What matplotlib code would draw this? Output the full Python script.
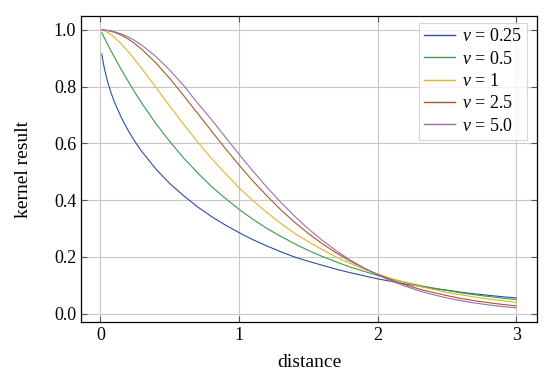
import matplotlib
matplotlib.use("Agg")
import matplotlib.pyplot as plt

plt.rcParams['font.family'] = ['Liberation Serif', 'DejaVu Serif']
plt.rcParams['mathtext.fontset'] = 'custom'
plt.rcParams['mathtext.rm'] = 'Liberation Serif'
plt.rcParams['mathtext.it'] = 'Liberation Serif:italic'

distance = [0.01, 0.02, 0.03, 0.05, 0.075, 0.1, 0.15, 0.2, 0.25, 0.3, 0.4, 0.5, 0.6,
            0.7, 0.8, 0.9, 1.0, 1.1, 1.2, 1.3, 1.4, 1.5, 1.6, 1.7, 1.8, 1.9, 2.0,
            2.1, 2.2, 2.3, 2.4, 2.5, 2.6, 2.7, 2.8, 2.9, 3.0]

nu_labels = ["0.25", "0.5", "1", "2.5", "5.0"]

k_nu_025 = [.915, .886, .861, .821, .781, .747, .692, .646, .606, .571, .510, .459, .416,
            .377, .343, .313, .286, .261, .239, .219, .200, .185, .171, .157, .145, .134, .123,
            .114, .105, .097, .089, .083, .076, .070, .065, .060, .056]
k_nu_05 = [.990, .980, .970, .951, .928, .905, .861, .819, .779, .741, .670, .607, .549,
           .497, .449, .407, .368, .333, .301, .273, .247, .223, .202, .183, .165, .150, .135,
           .122, .111, .100, .091, .082, .074, .067, .061, .055, .050]
k_nu_1 = [.9995, .998, .997, .992, .984, .974, .951, .924, .894, .863, .798, .732, .668,
          .606, .548, .495, .444, .399, .357, .319, .284, .254, .226, .200, .178, .158, .140,
          .124, .110, .097, .086, .075, .067, .059, .052, .046, .040]
k_nu_25 = [1.0, .9997, .9993, .998, .995, .992, .982, .968, .951, .931, .884, .829, .769,
           .707, .645, .583, .524, .468, .416, .367, .323, .283, .247, .215, .186, .161, .139,
           .119, .102, .087, .075, .064, .054, .046, .039, .033, .028]
k_nu_5 = [1.0, .9998, .9994, .9984, .9965, .9938, .9861, .9754, .9619, .9458, .9063, .8585, .8046,
          .7429, .6851, .6234, .5622, .5030, .4465, .3934, .3443, .2995, .2589, .2225, .1902, .1618, .1370,
          .1152, .0969, .0808, .0674, .0558, .0462, .0380, .0313, .0256, .0209]

series = [k_nu_025, k_nu_05, k_nu_1, k_nu_25, k_nu_5]
colors = ['#2b4f9e', '#3a9a48', '#e2b525', '#a45a2a', '#9a6fb0']

fig = plt.figure(figsize=(5.5, 3.77), dpi=100)
ax = fig.add_axes([81/550, 1-322/377, 456/550, 306/377])

for vals, lab, c in zip(series, nu_labels, colors):
    ax.plot(distance, vals, color=c, lw=0.8, label=r'$\nu$ = ' + lab,
            solid_joinstyle='round')

ax.set_xlim(-0.14, 3.15)
ax.set_ylim(-0.029, 1.049)
ax.set_xticks([0, 1, 2, 3])
ax.set_xticklabels(['0', '1', '2', '3'])
ax.set_yticks([0.0, 0.2, 0.4, 0.6, 0.8, 1.0])
ax.set_yticklabels(['0.0', '0.2', '0.4', '0.6', '0.8', '1.0'])
ax.grid(True, color='#c8c8c8', lw=0.8)
ax.set_axisbelow(True)
ax.tick_params(direction='in', top=True, right=True, length=4, width=0.8,
               labelsize=13, color='#555555')
for s in ax.spines.values():
    s.set_linewidth(0.9)
ax.set_xlabel('distance', fontsize=14, labelpad=7)
ax.set_ylabel('kernel result', fontsize=14, labelpad=16)

leg = ax.legend(loc='upper right', bbox_to_anchor=(0.979, 0.978), borderaxespad=0,
                fontsize=13, frameon=True, fancybox=False, handlelength=1.7,
                labelspacing=0.3, handletextpad=0.4, borderpad=0.3)
leg.get_frame().set_edgecolor('#cccccc')
leg.get_frame().set_linewidth(0.8)
for ln in leg.get_lines():
    ln.set_linewidth(1.0)

fig.savefig('out.png', dpi=100)
